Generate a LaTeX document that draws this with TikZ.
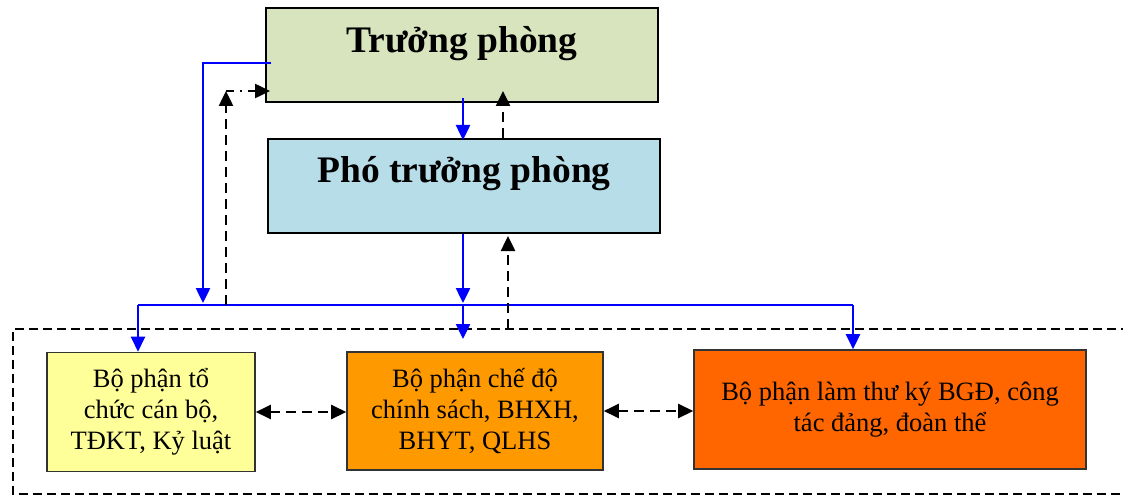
\documentclass[tikz,border=0pt]{standalone}
\usepackage{fontspec}
\setmainfont{Liberation Serif}
\usetikzlibrary{arrows.meta,calc}
\definecolor{cTP}{HTML}{D7E4BD}
\definecolor{cPP}{HTML}{B7DDE8}
\definecolor{cY}{HTML}{FFFF99}
\definecolor{cO}{HTML}{FF9900}
\definecolor{cD}{HTML}{FF6600}
\definecolor{cB}{HTML}{0000FF}
\begin{document}
\begin{tikzpicture}[x=1pt,y=-1pt,
  topbox/.style={draw=black, line width=2pt, inner sep=0pt},
  lowbox/.style={draw=black!80, line width=1.6pt, inner sep=0pt, align=center,
     font=\fontsize{26.5}{31}\selectfont},
  title/.style={font=\fontsize{37.5}{40}\selectfont\bfseries, inner sep=0pt},
  tip/.style={-{Triangle[length=15pt,width=14pt]}},
  bline/.style={draw=cB, line width=2.5pt},
  barrow/.style={bline, tip},
  dline/.style={draw=black, line width=2.5pt, dash pattern=on 10pt off 6pt},
  darrow/.style={dline, tip},
  ddarrow/.style={dline, {Triangle[length=15pt,width=14pt]}-{Triangle[length=15pt,width=14pt]}}
]
\useasboundingbox (0,0) rectangle (1123,497);

% frame
\draw[draw=black, line width=2pt, dash pattern=on 9pt off 5pt]
  (1130,329) -- (13,329) -- (13,494) -- (1130,494);

% top boxes
\node[topbox, fill=cTP, minimum width=392pt, minimum height=94pt] (tp) at (462,55) {};
\node[title] (tpt) at (462,44) {Trưởng phòng};
\node[topbox, fill=cPP, minimum width=392pt, minimum height=94pt] (pp) at (464,186) {};
\node[title] (ppt) at (464,174) {Phó trưởng phòng};

% lower boxes
\node[lowbox, fill=cY, minimum width=208pt, minimum height=119pt] (yb) at (151,412)
  {Bộ phận tổ\\chức cán bộ,\\TĐKT, Kỷ luật};
\node[lowbox, fill=cO, minimum width=256pt, minimum height=118pt] (ob) at (475,411)
  {Bộ phận chế độ\\chính sách, BHXH,\\BHYT, QLHS};
\node[lowbox, fill=cD, minimum width=392pt, minimum height=119pt] (db) at (890,409.5)
  {Bộ phận làm thư ký BGĐ, công\\tác đảng, đoàn thể};

% coordinates
\coordinate (busL) at (138,305);
\coordinate (busR) at (853,305);
\coordinate (busM) at (463,305);
\coordinate (busA) at (203,305);
\coordinate (corner) at (203,63);
\coordinate (dc) at (226,91);
\coordinate (dbot) at (226,305);
\coordinate (ftop) at (508,329);

% blue connectors
\draw[bline] (busL) -- (busR);
\draw[barrow] (busL) -- (busL |- yb.north);
\draw[barrow] (busR) -- (busR |- db.north);
\draw[barrow] ($(tp.west)+(6,8)$) -- (corner) -- ($(busA)+(0,-2)$);
\draw[barrow] ($(tp.south)+(1,-5)$) -- ($(pp.north)+(-1,2)$);
\draw[barrow] ($(pp.south)+(-1,0)$) -- ($(busM)+(0,-2)$);
\draw[barrow] (busM) -- ($(busM)+(0,34)$);

% black dashed connectors
\draw[darrow] (dbot) -- (dc);
\draw[draw=black, line width=2.5pt, dash pattern=on 8pt off 6pt on 2pt off 6pt, tip]
  (dc) -- ($(tp.west |- dc)+(5,0)$);
\draw[darrow] (ftop) -- ($(pp.south -| ftop)+(0,2)$);
\draw[darrow] ($(pp.north)+(39,0)$) -- ($(tp.south)+(41,-12)$);
\draw[ddarrow] (yb.east) -- (yb.east -| ob.west);
\draw[ddarrow] (ob.east) -- (ob.east -| db.west);
\end{tikzpicture}
\end{document}
